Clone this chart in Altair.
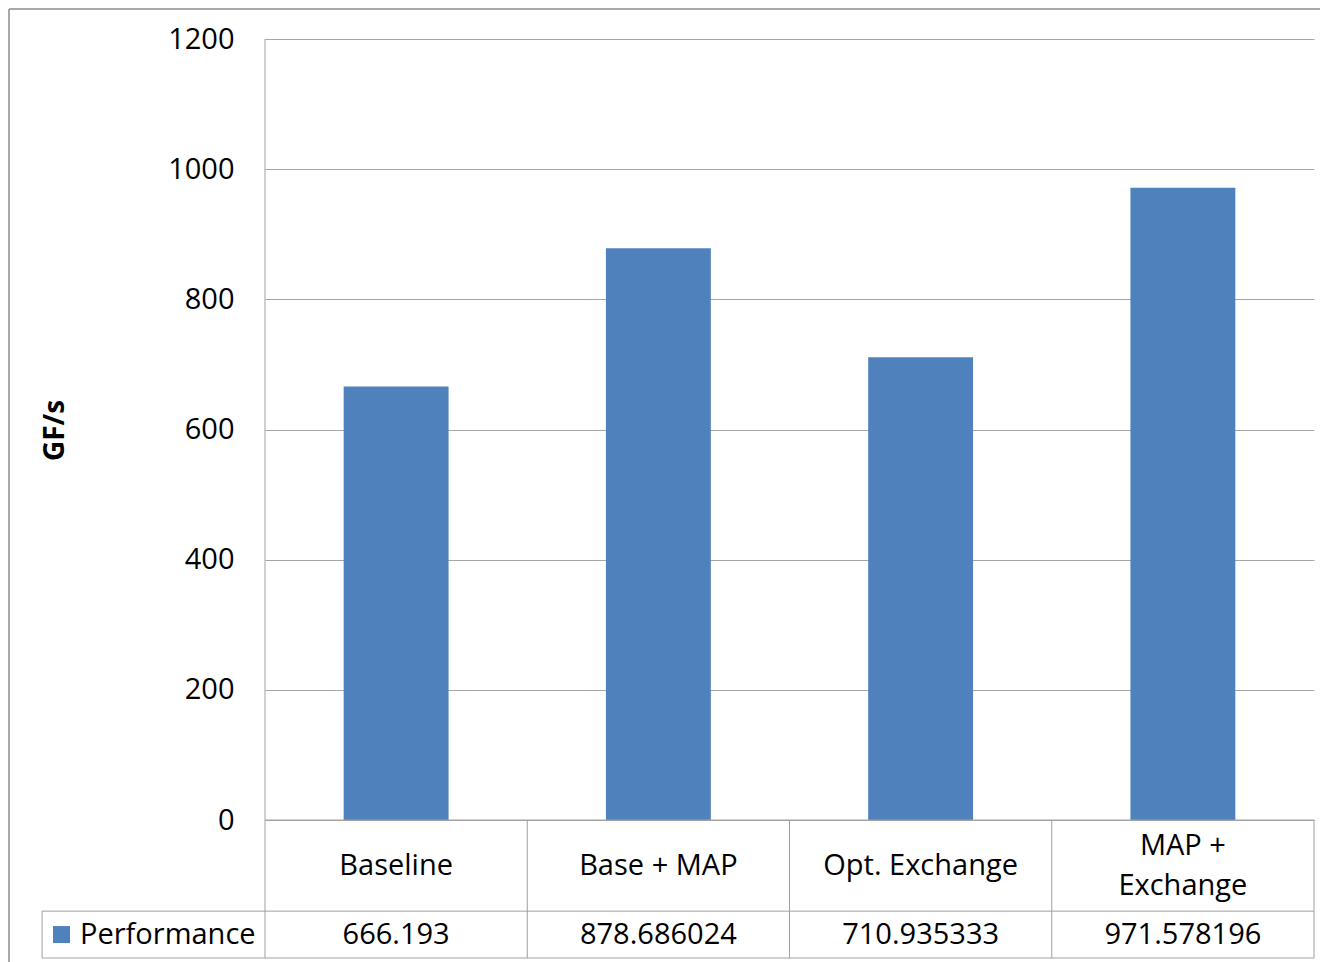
import altair as alt
import pandas as pd

# ---- data ----
categories = ["Baseline", "Base + MAP", "Opt. Exchange", "MAP +\nExchange"]
performance = [666.193, 878.686024, 710.935333, 971.578196]
value_labels = ["666.193", "878.686024", "710.935333", "971.578196"]
series_name = "Performance"
y_ticks = [0, 200, 400, 600, 800, 1000, 1200]
y_title = "GF/s"

BAR_COLOR = "#4F81BD"
GRID = "#a6a6a6"
LINE = "#a0a0a0"
FONT = "Open Sans"
FS = 29

W, H = 1049, 919
Y_MIN, Y_MAX = -212, 1200
PX_PER_UNIT = H / (Y_MAX - Y_MIN)
ROW1 = -140          # boundary between category row and value row
CAT_Y = -70
VAL_Y = -176
LEG_X0 = -0.850
LINE_H = 40

df = pd.DataFrame({"category": categories, "value": performance, "label": value_labels})
df["idx"] = range(len(df))

xs = alt.Scale(domain=[0, len(categories)], nice=False, zero=False)
ys = alt.Scale(domain=[Y_MIN, Y_MAX], nice=False, zero=False)

y_axis = alt.Axis(values=y_ticks, format="d", grid=True, gridColor=GRID, gridWidth=1,
                  domain=False, ticks=False, labelPadding=31,
                  labelFontSize=FS, labelFont=FONT, labelColor="#000",
                  titleFont=FONT, titleFontSize=28, titleFontWeight="bold",
                  titleColor="#000", titleX=-210, titleY=391,
                  titleAngle=-90, titleAlign="center", titleBaseline="middle")

base = alt.Chart(df).transform_calculate(
    x0="datum.idx + 0.3", x1="datum.idx + 0.7", xc="datum.idx + 0.5", xr="datum.idx + 1",
    cy=f"{CAT_Y} + (split(datum.category, '\\n').length - 1) * {LINE_H / 2 / PX_PER_UNIT}",
)

bars = base.mark_bar(color=BAR_COLOR).encode(
    x=alt.X("x0:Q", scale=xs, axis=None),
    x2="x1:Q",
    y=alt.Y("value:Q", scale=ys, title=y_title, axis=y_axis),
    y2=alt.datum(0),
)

cat_text = base.mark_text(font=FONT, fontSize=FS, lineBreak="\n", lineHeight=LINE_H,
                          baseline="middle", align="center", color="#000").encode(
    x=alt.X("xc:Q", scale=xs, axis=None),
    y=alt.Y("cy:Q", scale=ys, title=y_title, axis=y_axis),
    text="category:N",
)

val_text = base.mark_text(font=FONT, fontSize=FS, baseline="middle", align="center",
                          color="#000").encode(
    x=alt.X("xc:Q", scale=xs, axis=None),
    y=alt.datum(VAL_Y, scale=ys),
    text="label:N",
)

# category separators in the table
seps = base.mark_rule(color=LINE, strokeWidth=1).encode(
    x=alt.X("xr:Q", scale=xs, axis=None),
    y=alt.datum(0, scale=ys),
    y2=alt.datum(Y_MIN),
)

frame_df = pd.DataFrame({
    "x": [0, 0, LEG_X0, LEG_X0, LEG_X0],
    "x2": [0, len(categories), len(categories), len(categories), LEG_X0],
    "y": [Y_MAX, 0, ROW1, Y_MIN, ROW1],
    "y2": [Y_MIN, 0, ROW1, Y_MIN, Y_MIN],
})
frame = alt.Chart(frame_df).mark_rule(color=LINE, strokeWidth=1).encode(
    x=alt.X("x:Q", scale=xs, axis=None), x2="x2:Q",
    y=alt.Y("y:Q", scale=ys, title=y_title, axis=y_axis), y2="y2:Q",
)

leg_df = pd.DataFrame({"name": [series_name]})
swatch = alt.Chart(leg_df).mark_square(color=BAR_COLOR, size=289, opacity=1).encode(
    x=alt.datum(-0.776, scale=xs),
    y=alt.datum(VAL_Y, scale=ys),
)
leg_text = alt.Chart(leg_df).mark_text(font=FONT, fontSize=FS, align="left",
                                        baseline="middle", color="#000").encode(
    x=alt.datum(-0.7054, scale=xs),
    y=alt.datum(VAL_Y, scale=ys),
    text="name:N",
)

# outer chart border (left and top)
border_l = alt.Chart(leg_df).mark_rule(color="#8c8c8c", strokeWidth=1.5).encode(
    x=alt.value(-256), y=alt.value(-30), y2=alt.value(930))
border_t = alt.Chart(leg_df).mark_rule(color="#8c8c8c", strokeWidth=1.5).encode(
    x=alt.value(-256), x2=alt.value(1060), y=alt.value(-30))

chart = alt.layer(bars, seps, frame, cat_text, val_text, swatch, leg_text,
                  border_l, border_t).properties(
    width=W, height=H,
    autosize=alt.AutoSizeParams(type="none"),
    padding={"left": 265, "top": 39, "right": 6, "bottom": 4},
    background="white",
).configure_view(stroke=None)

chart.save("out.html", embed_options={"renderer": "svg", "actions": False})
